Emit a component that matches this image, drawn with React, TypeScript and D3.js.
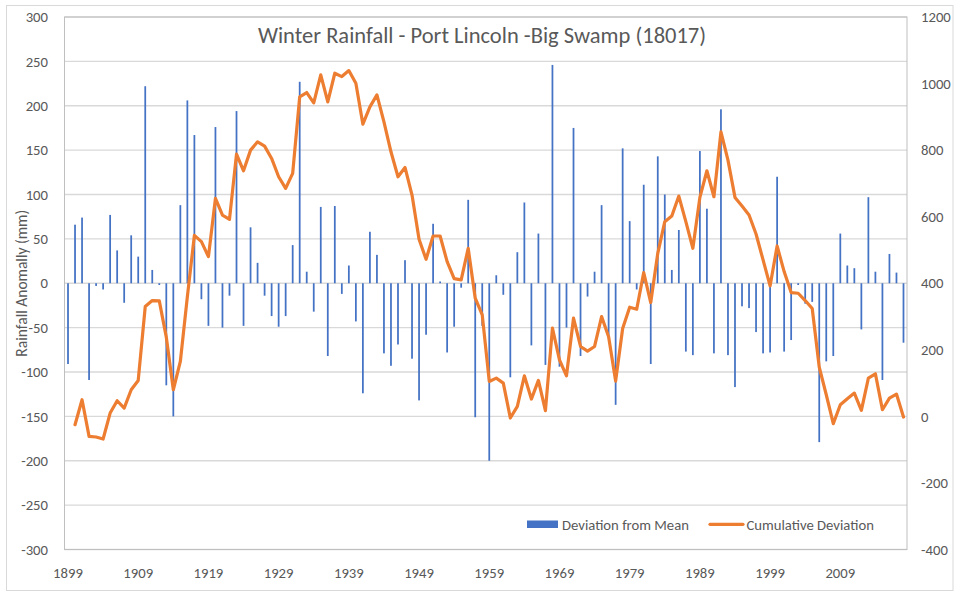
import React, { useEffect, useRef } from 'react';
import * as d3 from 'd3';

// winter seasons 1899..2018
const years = d3.range(1899, 2019).map(String);

// deviation from mean winter rainfall (mm), one per year
const deviation = [
  -91, 66, 74, -109, -3, -7, 77, 37, -22, 54,
  30, 222, 15, -2, -115, -150, 88, 206, 167, -18,
  -48, 176, -50, -14, 194, -48, 63, 23, -14, -37,
  -49, -37, 43, 227, 13, -32, 86, -82, 87, -12,
  20, -43, -124, 58, 32, -79, -93, -69, 26, -85,
  -132, -58, 67, 2, -78, -49, -5, 94, -151, -48,
  -200, 9, -13, -106, 35, 91, -70, 56, -92, 246,
  -94, -50, 175, -82, -15, 13, 88, -62, -137, 152,
  70, -7, 111, -91, 143, 100, 15, 60, -77, -81,
  149, 84, -79, 196, -81, -117, -26, -28, -55, -79,
  -78, 120, -77, -64, -2, -23, -21, -179, -88, -82,
  56, 20, 17, -52, 97, 13, -109, 33, 12, -67,
];

// cumulative deviation (mm); no point for 1899
const cumulative = [
  null, -25, 50, -60, -62, -68, 10, 47, 25, 80,
  108, 330, 348, 347, 238, 80, 165, 360, 544, 525,
  480, 655, 605, 592, 788, 738, 800, 825, 812, 775,
  720, 685, 730, 960, 973, 942, 1026, 945, 1031, 1021,
  1039, 1001, 878, 930, 966, 885, 795, 720, 748, 665,
  532, 472, 542, 542, 465, 414, 410, 505, 355, 305,
  105, 115, 100, -5, 30, 122, 52, 108, 17, 265,
  170, 122, 295, 210, 196, 210, 300, 239, 106, 264,
  328, 322, 432, 342, 490, 585, 602, 662, 585, 505,
  658, 738, 660, 855, 770, 658, 632, 605, 548, 470,
  392, 512, 435, 372, 370, 348, 324, 148, 65, -22,
  35, 53, 70, 18, 115, 128, 20, 55, 67, -2,
];

const xTickLabels = ['1899', '1909', '1919', '1929', '1939', '1949', '1959', '1969', '1979', '1989', '1999', '2009'];
const leftTicks = d3.range(-300, 301, 50);
const rightTicks = d3.range(-400, 1201, 200);

const FONT = "Carlito, Calibri, Lato, 'Open Sans', sans-serif";
const TEXT = '#595959';
const LABEL_SIZE = 14.7;

function App() {
  const ref = useRef<SVGSVGElement | null>(null);

  useEffect(() => {
    const width = 959;
    const height = 594;
    const plot = { left: 64.5, right: 907, top: 17, bottom: 549.5 };

    const x = d3.scaleBand()
      .domain(years)
      .range([plot.left, plot.right])
      .paddingInner(0.75)
      .paddingOuter(0.375);

    const yL = d3.scaleLinear().domain([-300, 300]).range([plot.bottom, plot.top]);
    const yR = d3.scaleLinear().domain([-400, 1200]).range([plot.bottom, plot.top]);

    const svg = d3.select(ref.current);
    svg.selectAll('*').remove();
    svg.attr('width', width).attr('height', height).style('font-family', FONT);

    svg.append('rect')
      .attr('x', 0).attr('y', 0).attr('width', width).attr('height', height)
      .attr('fill', '#fff');

    // chart frame
    svg.append('rect')
      .attr('x', 6.5).attr('y', 5.5).attr('width', 946.5).attr('height', 585)
      .attr('fill', 'none').attr('stroke', '#d9d9d9');

    // gridlines
    svg.append('g')
      .selectAll('line')
      .data(leftTicks)
      .join('line')
      .attr('x1', plot.left).attr('x2', plot.right)
      .attr('y1', (d) => yL(d)).attr('y2', (d) => yL(d))
      .attr('stroke', '#d9d9d9').attr('stroke-width', 1.3);

    // plot area border
    svg.append('rect')
      .attr('x', plot.left).attr('y', plot.top)
      .attr('width', plot.right - plot.left).attr('height', plot.bottom - plot.top)
      .attr('fill', 'none').attr('stroke', '#bfbfbf');

    // bars
    svg.append('g')
      .selectAll('rect')
      .data(deviation)
      .join('rect')
      .attr('fill', '#4472c4')
      .attr('x', (d, i) => x(years[i]) as number)
      .attr('width', x.bandwidth())
      .attr('y', (d) => yL(Math.max(0, d)))
      .attr('height', (d) => Math.abs(yL(d) - yL(0)));

    // cumulative line
    const line = d3.line<number | null>()
      .defined((d) => d !== null)
      .x((d, i) => (x(years[i]) as number) + x.bandwidth() / 2)
      .y((d) => yR(d as number));

    svg.append('path')
      .datum(cumulative)
      .attr('fill', 'none')
      .attr('stroke', '#ed7d31')
      .attr('stroke-width', 3.2)
      .attr('stroke-linejoin', 'round')
      .attr('stroke-linecap', 'round')
      .attr('d', line);

    // left axis labels
    svg.append('g')
      .selectAll('text')
      .data(leftTicks)
      .join('text')
      .attr('x', 48).attr('y', (d) => yL(d))
      .attr('dy', '0.35em')
      .attr('text-anchor', 'end')
      .attr('font-size', LABEL_SIZE).attr('fill', TEXT)
      .text((d) => d);

    // right axis labels
    svg.append('g')
      .selectAll('text')
      .data(rightTicks)
      .join('text')
      .attr('x', 921).attr('y', (d) => yR(d))
      .attr('dy', '0.35em')
      .attr('text-anchor', 'start')
      .attr('font-size', LABEL_SIZE).attr('fill', TEXT)
      .text((d) => d);

    // x axis labels
    svg.append('g')
      .selectAll('text')
      .data(xTickLabels)
      .join('text')
      .attr('x', (d) => (x(d) as number) + x.bandwidth() / 2)
      .attr('y', 577.5)
      .attr('text-anchor', 'middle')
      .attr('font-size', LABEL_SIZE).attr('fill', TEXT)
      .text((d) => d);

    svg.append('text')
      .attr('transform', `translate(26.5,${yL(0)}) rotate(-90)`)
      .attr('text-anchor', 'middle')
      .attr('font-size', 15.5).attr('fill', TEXT)
      .text('Rainfall Anomally (mm)');

    svg.append('text')
      .attr('x', 482).attr('y', 43)
      .attr('text-anchor', 'middle')
      .attr('font-size', 22.5).attr('fill', TEXT)
      .text('Winter Rainfall - Port Lincoln -Big Swamp (18017)');

    // legend
    const lg = svg.append('g').attr('font-size', LABEL_SIZE).attr('fill', TEXT);
    lg.append('rect')
      .attr('x', 527).attr('y', 520.5).attr('width', 31).attr('height', 7.5)
      .attr('fill', '#4472c4');
    lg.append('text').attr('x', 562).attr('y', 529.5).text('Deviation from Mean');
    lg.append('line')
      .attr('x1', 710).attr('x2', 743).attr('y1', 524.3).attr('y2', 524.3)
      .attr('stroke', '#ed7d31').attr('stroke-width', 3.2).attr('stroke-linecap', 'round');
    lg.append('text').attr('x', 746.5).attr('y', 529.5).text('Cumulative Deviation');
  }, []);

  return (
    <div style={{ position: 'absolute', left: 0, top: 0 }}>
      <svg ref={ref} style={{ display: 'block' }}></svg>
    </div>
  );
}

export default App;
